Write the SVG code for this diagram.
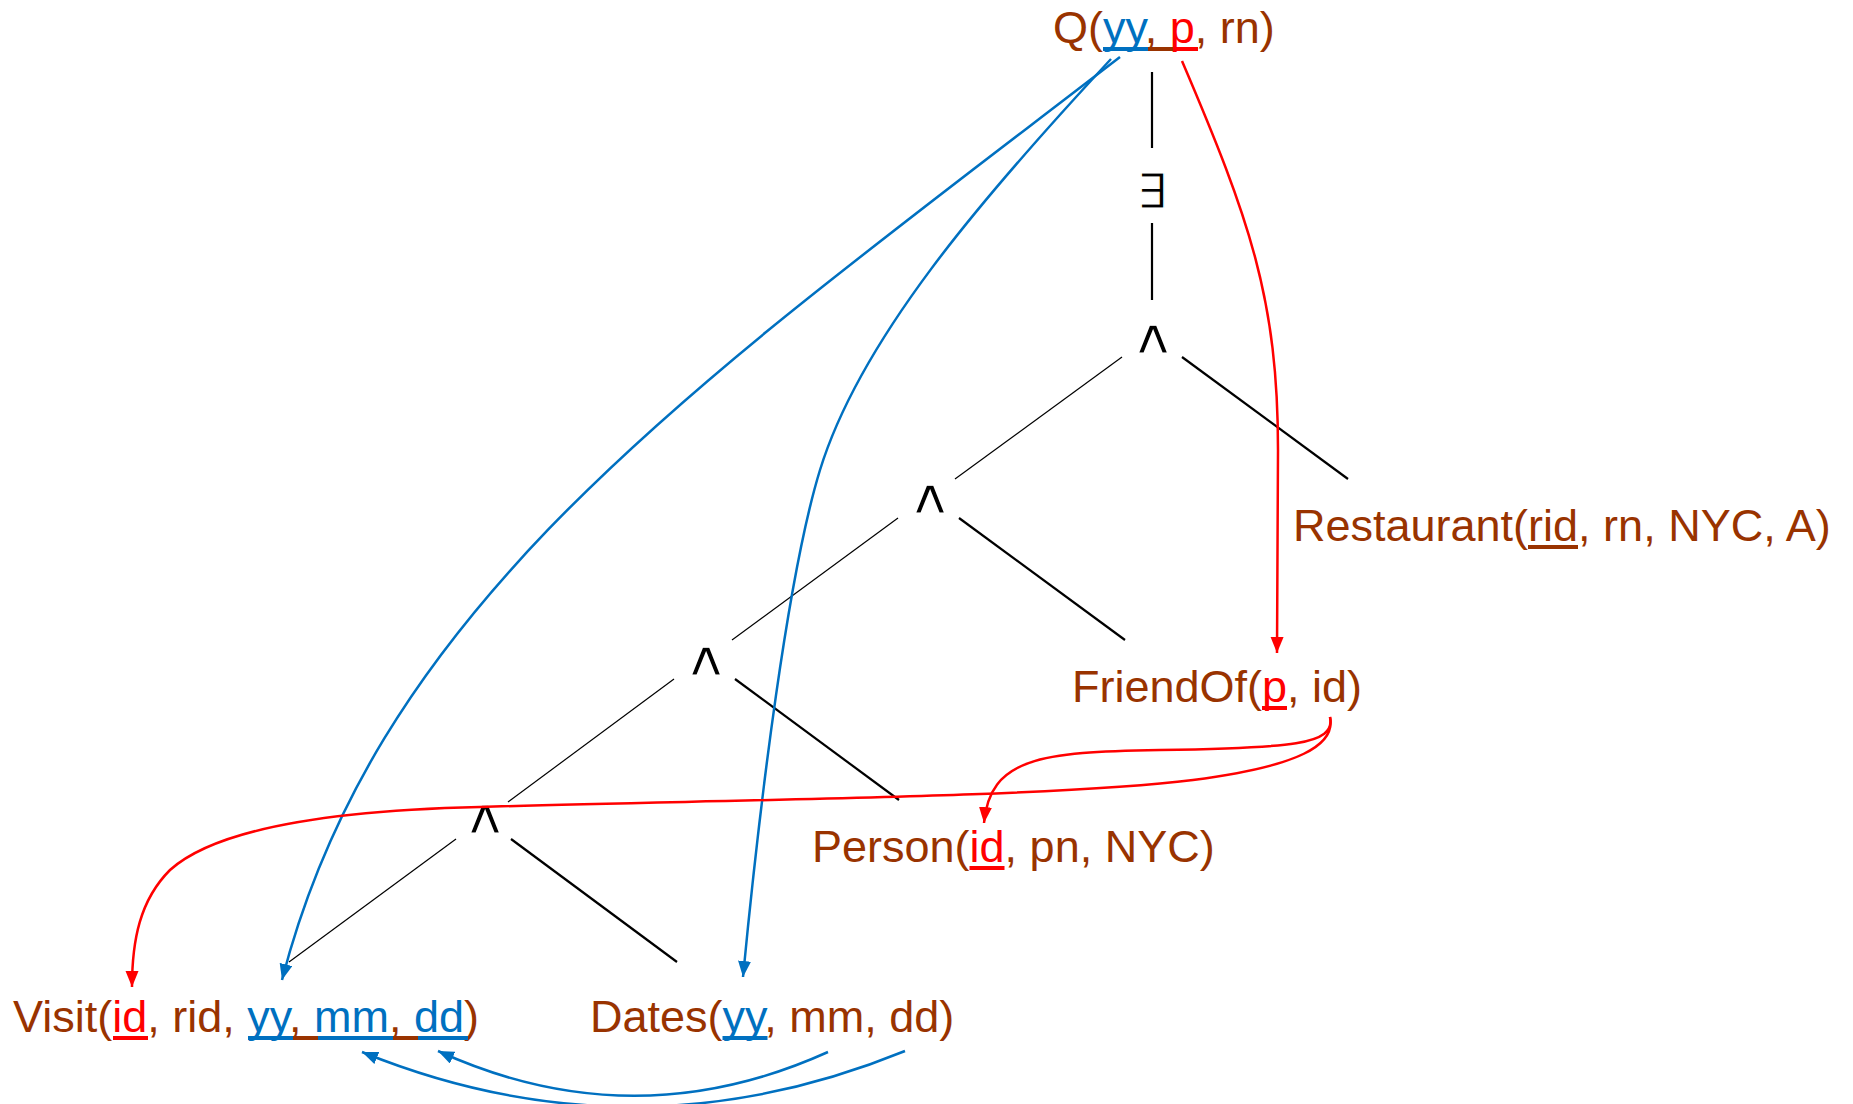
<svg xmlns="http://www.w3.org/2000/svg" width="1853" height="1104" viewBox="0 0 1853 1104">
<defs>
<style>
.t{font-family:"Liberation Sans",Arial,sans-serif;font-size:45px;fill:#993300}
.b{fill:#0070C0}
.r{fill:#FF0000}
.sym{font-family:"DejaVu Sans",sans-serif;font-size:48px;fill:#000;text-anchor:middle;stroke:#fff;stroke-width:1.2px}
.thin{stroke:#000;stroke-width:1.2;fill:none}
.thick{stroke:#000;stroke-width:2.2;fill:none}
.ub{fill:#0070C0}.ur{fill:#FF0000}.un{fill:#993300}
.cb{stroke:#0070C0;stroke-width:2.5;fill:none}
.cr{stroke:#FF0000;stroke-width:2.5;fill:none}
</style>
<marker id="ab" markerUnits="userSpaceOnUse" markerWidth="17" markerHeight="14" refX="16" refY="6.5" orient="auto"><path d="M0,0 L16,6.5 L0,13 z" fill="#0070C0"/></marker>
<marker id="ar" markerUnits="userSpaceOnUse" markerWidth="17" markerHeight="14" refX="16" refY="6.5" orient="auto"><path d="M0,0 L16,6.5 L0,13 z" fill="#FF0000"/></marker>
</defs>
<rect width="1853" height="1104" fill="#fff"/>

<g id="node-q">
<text class="t" x="1053" y="43">Q(<tspan class="b">yy</tspan>, <tspan class="r">p</tspan>, rn)</text>
<rect class="ub" x="1103" y="47" width="45" height="4"/><rect class="un" x="1148" y="47" width="25" height="4"/><rect class="ur" x="1173" y="47" width="25" height="4"/>
</g>
<g id="node-exists">
<text class="sym" x="1152" y="208" font-size="48">∃</text>
</g>
<g id="node-and1"><text class="sym" transform="translate(1153,353) scale(1.3,1)">∧</text></g>
<g id="node-and2"><text class="sym" transform="translate(930,513) scale(1.3,1)">∧</text></g>
<g id="node-and3"><text class="sym" transform="translate(706,675) scale(1.3,1)">∧</text></g>
<g id="node-and4"><text class="sym" transform="translate(485,833) scale(1.3,1)">∧</text></g>

<g id="node-restaurant">
<text class="t" x="1293" y="541">Restaurant(rid, rn, NYC, A)</text>
<rect class="un" x="1528" y="545" width="50" height="4"/>
</g>
<g id="node-friendof">
<text class="t" x="1072" y="702">FriendOf(<tspan class="r">p</tspan>, id)</text>
<rect class="ur" x="1262" y="706" width="25" height="4"/>
</g>
<g id="node-person">
<text class="t" x="812" y="862">Person(<tspan class="r">id</tspan>, pn, NYC)</text>
<rect class="ur" x="969.5" y="866" width="35" height="4"/>
</g>
<g id="node-visit">
<text class="t" x="13" y="1032">Visit(<tspan class="r">id</tspan>, rid, <tspan class="b">yy</tspan>, <tspan class="b">mm</tspan>, <tspan class="b">dd</tspan>)</text>
<rect class="ur" x="113" y="1036" width="35" height="4"/>
<rect class="ub" x="248" y="1036" width="45" height="4"/><rect class="un" x="293" y="1036" width="25" height="4"/><rect class="ub" x="318" y="1036" width="75" height="4"/><rect class="un" x="393" y="1036" width="25" height="4"/><rect class="ub" x="418" y="1036" width="50" height="4"/>
</g>
<g id="node-dates">
<text class="t" x="590" y="1032">Dates(<tspan class="b">yy</tspan>, mm, dd)</text>
<rect class="ub" x="722.5" y="1036" width="45" height="4"/>
</g>

<g id="connectors">
<line class="thick" x1="1152" y1="72" x2="1152" y2="148"/>
<line class="thick" x1="1152" y1="223" x2="1152" y2="300"/>
<line class="thin" x1="1122" y1="357" x2="955" y2="479"/>
<line class="thick" x1="1182" y1="357" x2="1348" y2="479"/>
<line class="thin" x1="898" y1="518" x2="732" y2="640"/>
<line class="thick" x1="959" y1="518" x2="1125" y2="640"/>
<line class="thin" x1="674" y1="679" x2="508" y2="802"/>
<line class="thick" x1="735" y1="679" x2="899" y2="800"/>
<line class="thin" x1="456" y1="839" x2="289" y2="962"/>
<line class="thick" x1="511" y1="839" x2="677" y2="962"/>

<path class="cb" d="M1120,57 C700,380 380,600 282,980" marker-end="url(#ab)"/>
<path class="cb" d="M1111,59 C980,200 860,340 820,470 C788,574 760,800 743,977" marker-end="url(#ab)"/>
<path class="cr" d="M1182,61 C1250,220 1278,300 1278,450 L1277,653" marker-end="url(#ar)"/>
<path class="cr" d="M1330,717 C1336,745 1290,748 1160,750 C1040,752 990,758 984,823" marker-end="url(#ar)"/>
<path class="cr" d="M1330,717 C1336,745 1300,766 1193,780 C1050,798 700,800 480,807 C350,810 220,825 170,870 C140,900 132,940 132,987" marker-end="url(#ar)"/>
<path class="cb" d="M828,1052 Q633,1140 438,1051" marker-end="url(#ab)"/>
<path class="cb" d="M905,1051 Q633,1162 362,1052" marker-end="url(#ab)"/>
</g>
</svg>
